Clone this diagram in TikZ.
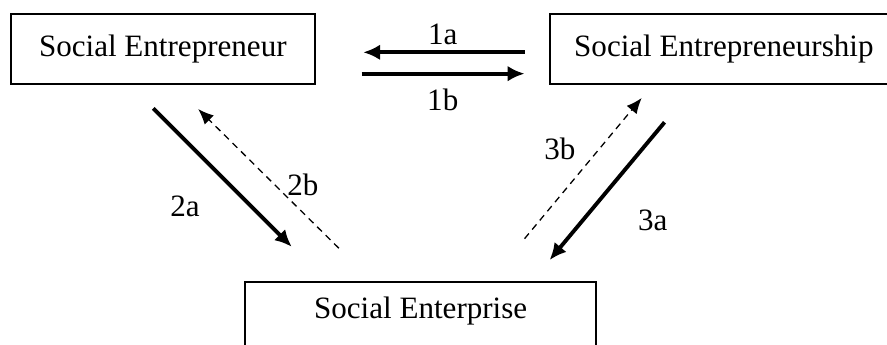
\documentclass[tikz,border=0pt]{standalone}
\usepackage{fontspec}
\setmainfont{Liberation Serif}
\usetikzlibrary{arrows.meta}

\begin{document}
\begin{tikzpicture}[
        font=\fontsize{12pt}{14pt}\selectfont,
        concept/.style={draw, line width=0.8pt, inner sep=0pt},
        flow/.style={line width=1.5pt, -{Latex[length=6.5pt, width=6pt]}},
        back/.style={line width=0.5pt, dash pattern=on 2.6pt off 2pt, -{Latex[length=6pt, width=5pt]}}]
            \useasboundingbox                                              ( 0.00, 0.00) rectangle (12.04,-4.67);
            % the three concepts (the right one and the bottom one run off the page)
            \node[concept, minimum width=4.13cm, minimum height=0.95cm] (entrepreneur)     at ( 2.21,-0.665) {Social Entrepreneur};
            \node[concept, minimum height=0.95cm, anchor=west, inner xsep=0.33cm,
                  text width=5.00cm, align=flush left]                  (entrepreneurship) at ( 7.45,-0.665) {Social Entrepreneurship};
            \node[concept, minimum width=4.76cm, anchor=north,
                  text height=0.50cm, text depth=0.80cm]                (enterprise)       at ( 5.71,-3.81)  {Social Enterprise};
            % arrow ends
            \coordinate (s1a) at ( 7.12,-0.71);  \coordinate (e1a) at ( 4.93,-0.71);
            \coordinate (s1b) at ( 4.91,-1.00);  \coordinate (e1b) at ( 7.12,-1.00);
            \coordinate (s2a) at ( 2.08,-1.47);  \coordinate (e2a) at ( 3.96,-3.35);
            \coordinate (s2b) at ( 4.60,-3.37);  \coordinate (e2b) at ( 2.69,-1.48);
            \coordinate (s3a) at ( 9.02,-1.66);  \coordinate (e3a) at ( 7.46,-3.53);
            \coordinate (s3b) at ( 7.12,-3.24);  \coordinate (e3b) at ( 8.71,-1.33);
            \draw[flow] (s1a) -- (e1a);
            \draw[flow] (s1b) -- (e1b);
            \draw[flow] (s2a) -- (e2a);
            \draw[back] (s2b) -- (e2b);
            \draw[flow] (s3a) -- (e3a);
            \draw[back] (s3b) -- (e3b);
            % labels
            \node (l1a) at ( 6.01,-0.47) {1a};
            \node (l1b) at ( 6.01,-1.36) {1b};
            \node (l2a) at ( 2.51,-2.80) {2a};
            \node (l2b) at ( 4.11,-2.51) {2b};
            \node (l3b) at ( 7.60,-2.02) {3b};
            \node (l3a) at ( 8.86,-2.99) {3a};
        \end{tikzpicture}
\end{document}
